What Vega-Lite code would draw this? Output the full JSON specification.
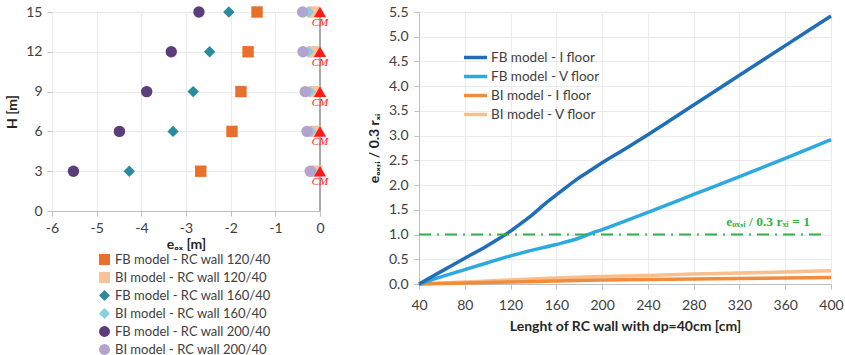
{
  "$schema": "https://vega.github.io/schema/vega-lite/v6.json",
  "padding": {"left": 5, "top": 5, "right": 0, "bottom": 5},
  "background": "white",
  "spacing": 38,
  "resolve": {"scale": {"color": "independent", "shape": "independent", "x": "independent", "y": "independent"}, "legend": {"color": "independent", "shape": "independent"}},
  "datasets": {
    "pts": [
      {"series": "FB model - RC wall 120/40", "h": 15, "e": -1.41},
      {"series": "FB model - RC wall 120/40", "h": 12, "e": -1.61},
      {"series": "FB model - RC wall 120/40", "h": 9, "e": -1.77},
      {"series": "FB model - RC wall 120/40", "h": 6, "e": -1.97},
      {"series": "FB model - RC wall 120/40", "h": 3, "e": -2.67},
      {"series": "BI model - RC wall 120/40", "h": 15, "e": -0.14},
      {"series": "BI model - RC wall 120/40", "h": 12, "e": -0.14},
      {"series": "BI model - RC wall 120/40", "h": 9, "e": -0.12},
      {"series": "BI model - RC wall 120/40", "h": 6, "e": -0.1},
      {"series": "BI model - RC wall 120/40", "h": 3, "e": -0.08},
      {"series": "FB model - RC wall 160/40", "h": 15, "e": -2.04},
      {"series": "FB model - RC wall 160/40", "h": 12, "e": -2.47},
      {"series": "FB model - RC wall 160/40", "h": 9, "e": -2.84},
      {"series": "FB model - RC wall 160/40", "h": 6, "e": -3.29},
      {"series": "FB model - RC wall 160/40", "h": 3, "e": -4.27},
      {"series": "BI model - RC wall 160/40", "h": 15, "e": -0.26},
      {"series": "BI model - RC wall 160/40", "h": 12, "e": -0.26},
      {"series": "BI model - RC wall 160/40", "h": 9, "e": -0.23},
      {"series": "BI model - RC wall 160/40", "h": 6, "e": -0.2},
      {"series": "BI model - RC wall 160/40", "h": 3, "e": -0.16},
      {"series": "FB model - RC wall 200/40", "h": 15, "e": -2.71},
      {"series": "FB model - RC wall 200/40", "h": 12, "e": -3.33},
      {"series": "FB model - RC wall 200/40", "h": 9, "e": -3.88},
      {"series": "FB model - RC wall 200/40", "h": 6, "e": -4.49},
      {"series": "FB model - RC wall 200/40", "h": 3, "e": -5.52},
      {"series": "BI model - RC wall 200/40", "h": 15, "e": -0.39},
      {"series": "BI model - RC wall 200/40", "h": 12, "e": -0.38},
      {"series": "BI model - RC wall 200/40", "h": 9, "e": -0.33},
      {"series": "BI model - RC wall 200/40", "h": 6, "e": -0.29},
      {"series": "BI model - RC wall 200/40", "h": 3, "e": -0.22}
    ],
    "cm": [
      {"h": 15, "e": 0, "label": "CM"},
      {"h": 12, "e": 0, "label": "CM"},
      {"h": 9, "e": 0, "label": "CM"},
      {"h": 6, "e": 0, "label": "CM"},
      {"h": 3, "e": 0, "label": "CM"}
    ],
    "lines": [
      {"model": "BI model - V floor", "L": 40, "v": 0},
      {"model": "BI model - V floor", "L": 80, "v": 0.04},
      {"model": "BI model - V floor", "L": 120, "v": 0.08},
      {"model": "BI model - V floor", "L": 160, "v": 0.12},
      {"model": "BI model - V floor", "L": 200, "v": 0.15},
      {"model": "BI model - V floor", "L": 240, "v": 0.17},
      {"model": "BI model - V floor", "L": 280, "v": 0.2},
      {"model": "BI model - V floor", "L": 320, "v": 0.22},
      {"model": "BI model - V floor", "L": 360, "v": 0.245},
      {"model": "BI model - V floor", "L": 400, "v": 0.27},
      {"model": "BI model - I floor", "L": 40, "v": 0},
      {"model": "BI model - I floor", "L": 80, "v": 0.02},
      {"model": "BI model - I floor", "L": 120, "v": 0.04},
      {"model": "BI model - I floor", "L": 160, "v": 0.06},
      {"model": "BI model - I floor", "L": 200, "v": 0.08},
      {"model": "BI model - I floor", "L": 240, "v": 0.09},
      {"model": "BI model - I floor", "L": 280, "v": 0.1},
      {"model": "BI model - I floor", "L": 320, "v": 0.11},
      {"model": "BI model - I floor", "L": 360, "v": 0.12},
      {"model": "BI model - I floor", "L": 400, "v": 0.13},
      {"model": "FB model - V floor", "L": 40, "v": 0},
      {"model": "FB model - V floor", "L": 60, "v": 0.15},
      {"model": "FB model - V floor", "L": 80, "v": 0.29},
      {"model": "FB model - V floor", "L": 100, "v": 0.43},
      {"model": "FB model - V floor", "L": 120, "v": 0.57},
      {"model": "FB model - V floor", "L": 140, "v": 0.69},
      {"model": "FB model - V floor", "L": 160, "v": 0.8},
      {"model": "FB model - V floor", "L": 180, "v": 0.93},
      {"model": "FB model - V floor", "L": 190, "v": 1.02},
      {"model": "FB model - V floor", "L": 200, "v": 1.1},
      {"model": "FB model - V floor", "L": 240, "v": 1.45},
      {"model": "FB model - V floor", "L": 280, "v": 1.81},
      {"model": "FB model - V floor", "L": 320, "v": 2.17},
      {"model": "FB model - V floor", "L": 360, "v": 2.54},
      {"model": "FB model - V floor", "L": 400, "v": 2.92},
      {"model": "FB model - I floor", "L": 40, "v": 0},
      {"model": "FB model - I floor", "L": 60, "v": 0.26},
      {"model": "FB model - I floor", "L": 80, "v": 0.52},
      {"model": "FB model - I floor", "L": 100, "v": 0.78},
      {"model": "FB model - I floor", "L": 110, "v": 0.92},
      {"model": "FB model - I floor", "L": 120, "v": 1.07},
      {"model": "FB model - I floor", "L": 130, "v": 1.24},
      {"model": "FB model - I floor", "L": 140, "v": 1.42},
      {"model": "FB model - I floor", "L": 150, "v": 1.62},
      {"model": "FB model - I floor", "L": 160, "v": 1.8},
      {"model": "FB model - I floor", "L": 170, "v": 1.98},
      {"model": "FB model - I floor", "L": 180, "v": 2.15},
      {"model": "FB model - I floor", "L": 190, "v": 2.3},
      {"model": "FB model - I floor", "L": 200, "v": 2.45},
      {"model": "FB model - I floor", "L": 220, "v": 2.73},
      {"model": "FB model - I floor", "L": 240, "v": 3.02},
      {"model": "FB model - I floor", "L": 280, "v": 3.62},
      {"model": "FB model - I floor", "L": 320, "v": 4.22},
      {"model": "FB model - I floor", "L": 360, "v": 4.82},
      {"model": "FB model - I floor", "L": 400, "v": 5.42}
    ],
    "ref": [
      {"L": 40, "L2": 396, "v": 1, "lx": 345, "ly": 1.25, "label": "eₒₓ,ᵢ / 0.3 rₓᵢ = 1"}
    ]
  },
  "config": {
    "view": {"stroke": null},
    "font": "Lato",
    "axis": {
      "labelFont": "Lato",
      "labelFontSize": 14,
      "labelColor": "#404040",
      "labelOverlap": false,
      "labelFlush": false,
      "titleFont": "Lato",
      "titleFontSize": 14,
      "titleFontWeight": "bold",
      "titleColor": "#262626",
      "gridColor": "#EBEBEB",
      "domainColor": "#BFBFBF",
      "tickColor": "#BFBFBF",
      "tickSize": 5,
      "labelPadding": 5
    },
    "legend": {
      "labelFont": "Lato",
      "labelFontSize": 13,
      "labelColor": "#404040",
      "padding": 0
    }
  },
  "hconcat": [
    {
      "width": 268,
      "height": 199,
      "encoding": {
        "x": {
          "field": "e", "type": "quantitative",
          "scale": {"domain": [-6, 0], "nice": false},
          "axis": {"values": [-6, -5, -4, -3, -2, -1, 0], "title": "eₒₓ [m]", "titlePadding": 2, "labelExpr": "replace(datum.label, '−', '-')"}
        },
        "y": {
          "field": "h", "type": "quantitative",
          "scale": {"domain": [0, 15], "nice": false},
          "axis": {"values": [0, 3, 6, 9, 12, 15], "title": "H [m]", "domain": false, "titlePadding": 6}
        }
      },
      "layer": [
        {
          "data": {"name": "cm"},
          "mark": {"type": "rule", "color": "#A6A6A6", "strokeWidth": 1},
          "encoding": {
            "y": null
          }
        },
        {
          "data": {"name": "pts"},
          "mark": {"type": "point", "filled": true, "opacity": 1, "size": 130},
          "encoding": {
            "color": {
              "field": "series", "type": "nominal", "sort": null,
              "scale": {
                "domain": ["FB model - RC wall 120/40", "BI model - RC wall 120/40", "FB model - RC wall 160/40", "BI model - RC wall 160/40", "FB model - RC wall 200/40", "BI model - RC wall 200/40"],
                "range": ["#E8702A", "#F9C397", "#2A8A9E", "#8ACDE0", "#5B3D7C", "#B3A3CD"]
              },
              "legend": {"title": null, "orient": "none", "legendX": 46, "legendY": 241, "rowPadding": 4, "symbolSize": 120}
            },
            "shape": {
              "field": "series", "type": "nominal", "sort": null,
              "scale": {
                "domain": ["FB model - RC wall 120/40", "BI model - RC wall 120/40", "FB model - RC wall 160/40", "BI model - RC wall 160/40", "FB model - RC wall 200/40", "BI model - RC wall 200/40"],
                "range": ["square", "square", "diamond", "diamond", "circle", "circle"]
              },
              "legend": {"title": null, "orient": "none", "legendX": 46, "legendY": 241, "rowPadding": 4, "symbolSize": 120}
            }
          }
        },
        {
          "data": {"name": "cm"},
          "mark": {"type": "point", "shape": "triangle-up", "filled": true, "opacity": 1, "color": "#FF1A1A", "size": 150}
        },
        {
          "data": {"name": "cm"},
          "mark": {"type": "text", "font": "Liberation Serif", "fontStyle": "italic", "fontSize": 11, "color": "#FF1A1A", "dy": 11},
          "encoding": {
            "text": {"field": "label"}
          }
        }
      ]
    },
    {
      "width": 412,
      "height": 272,
      "encoding": {
        "x": {
          "field": "L", "type": "quantitative",
          "scale": {"domain": [40, 400], "nice": false},
          "axis": {"values": [40, 80, 120, 160, 200, 240, 280, 320, 360, 400], "title": "Lenght of RC wall with dp=40cm [cm]", "titlePadding": 7, "labelPadding": 9}
        },
        "y": {
          "field": "v", "type": "quantitative",
          "scale": {"domain": [0, 5.5], "nice": false},
          "axis": {"values": [0, 0.5, 1, 1.5, 2, 2.5, 3, 3.5, 4, 4.5, 5, 5.5], "format": ".1f", "title": "eₒₓ,ᵢ / 0.3 rₓᵢ", "titlePadding": 7, "labelPadding": 6}
        }
      },
      "layer": [
        {
          "data": {"name": "lines"},
          "mark": {"type": "line", "strokeWidth": 3.5, "interpolate": "monotone"},
          "encoding": {
            "color": {
              "field": "model", "type": "nominal",
              "scale": {
                "domain": ["FB model - I floor", "FB model - V floor", "BI model - I floor", "BI model - V floor"],
                "range": ["#1F6EB7", "#2EA9E0", "#F28C3A", "#F9BE8E"]
              },
              "legend": {"title": null, "orient": "none", "legendX": 46, "legendY": 35, "symbolType": "M-1.35,0H1.35", "symbolStrokeWidth": 3.5, "symbolSize": 289, "rowPadding": 1, "labelOffset": 5, "labelFontSize": 13.5}
            }
          }
        },
        {
          "data": {"name": "ref"},
          "mark": {"type": "rule", "color": "#2CB34A", "strokeWidth": 2, "strokeDash": [12, 6, 2, 6]},
          "encoding": {
            "x2": {"field": "L2"}
          }
        },
        {
          "data": {"name": "ref"},
          "mark": {"type": "text", "font": "Liberation Serif", "fontWeight": "bold", "fontSize": 13.5, "color": "#2CB34A", "align": "center"},
          "encoding": {
            "x": {"field": "lx", "type": "quantitative"},
            "y": {"field": "ly", "type": "quantitative"},
            "text": {"field": "label"}
          }
        }
      ]
    }
  ]
}
